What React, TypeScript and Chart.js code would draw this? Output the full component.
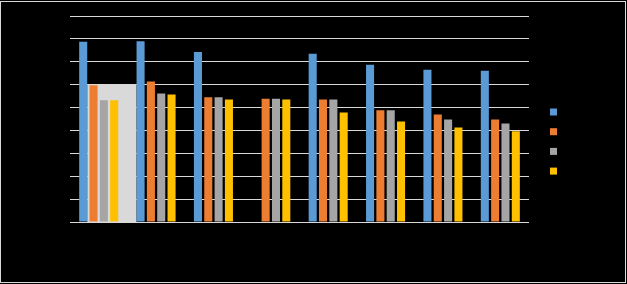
import React, { useEffect, useRef } from "react";
import { Chart, registerables } from "chart.js";

Chart.register(...registerables);

const categories = ["1", "2", "3", "4", "5", "6", "7", "8"];
const seriesNames = ["Series1", "Series2", "Series3", "Series4"];
const seriesColors = ["#5B9BD5", "#ED7D31", "#A5A5A5", "#FFC000"];
const series1 = [78.7, 79.0, 74.3, null, 73.5, 68.7, 66.5, 66.1];
const series2 = [59.7, 61.4, 54.5, 53.9, 53.5, 48.8, 47.0, 44.8];
const series3 = [53.2, 56.1, 54.5, 53.9, 53.5, 48.8, 44.8, 43.0];
const series4 = [53.2, 55.7, 53.5, 53.5, 47.8, 43.9, 41.3, 39.6];
const yMin = 0;
const yMax = 90;
const yStep = 10;
const highlightValue = 60;

const bgPlugin = {
  id: "bg",
  beforeDraw(chart: any) {
    const { ctx, width, height } = chart;
    ctx.save();
    ctx.fillStyle = "#000000";
    ctx.fillRect(0, 0, width, height);
    ctx.restore();
  },
  afterDraw(chart: any) {
    const { ctx } = chart;
    ctx.save();
    ctx.strokeStyle = "#d9d9d9";
    ctx.lineWidth = 1;
    ctx.strokeRect(0.5, 1.5, 625, 281);
    ctx.restore();
  },
};

const highlightPlugin = {
  id: "highlight",
  beforeDatasetsDraw(chart: any) {
    const meta = chart.getDatasetMeta(0);
    const b0: any = meta.data[0];
    const b1: any = meta.data[1];
    if (!b0 || !b1) return;
    const y = chart.scales.y;
    const left = b0.x + b0.width / 2;
    const right = b1.x - b1.width / 2;
    const top = y.getPixelForValue(highlightValue);
    const bottom = y.getPixelForValue(0);
    const { ctx } = chart;
    ctx.save();
    ctx.fillStyle = "#d9d9d9";
    ctx.fillRect(left, top, right - left, bottom - top);
    ctx.restore();
  },
};

const legendPlugin = {
  id: "customLegend",
  afterDraw(chart: any) {
    const { ctx } = chart;
    const x = 550;
    const startY = 112;
    const gap = 19.7;
    ctx.save();
    ctx.font = "12px 'Liberation Sans', sans-serif";
    ctx.textBaseline = "middle";
    chart.data.datasets.forEach((ds: any, i: number) => {
      const cy = startY + i * gap;
      ctx.fillStyle = ds.backgroundColor;
      ctx.fillRect(x, cy - 3.5, 7, 7);
      ctx.fillStyle = "#000000";
      ctx.fillText(ds.label, x + 11, cy);
    });
    ctx.restore();
  },
};

export default function App() {
  const ref = useRef<HTMLCanvasElement | null>(null);

  useEffect(() => {
    document.body.style.margin = "0";
    document.body.style.background = "#000";
    if (!ref.current) return;
    const data = [series1, series2, series3, series4];
    const chart = new Chart(ref.current, {
      type: "bar",
      data: {
        labels: categories,
        datasets: data.map((d, i) => ({
          label: seriesNames[i],
          data: d as any,
          backgroundColor: seriesColors[i],
          borderWidth: 0,
          categoryPercentage: 0.72,
          barPercentage: 0.78,
        })),
      },
      options: {
        responsive: false,
        animation: false,
        layout: { padding: { left: 10, right: 98, top: 16, bottom: 10 } },
        plugins: {
          legend: { display: false },
          tooltip: { enabled: false },
        },
        scales: {
          x: {
            grid: { display: false },
            border: { display: false },
            ticks: { color: "#000000", font: { family: "Liberation Sans", size: 12 } },
            afterFit: (axis: any) => {
              axis.height = 52;
            },
          },
          y: {
            min: yMin,
            max: yMax,
            ticks: {
              stepSize: yStep,
              color: "#000000",
              font: { family: "Liberation Sans", size: 12 },
            },
            grid: { color: "#d9d9d9", lineWidth: 1, drawTicks: false },
            border: { display: false },
            afterFit: (axis: any) => {
              axis.width = 60;
            },
          },
        },
      },
      plugins: [bgPlugin, highlightPlugin, legendPlugin],
    });
    return () => chart.destroy();
  }, []);

  return (
    <div style={{ width: 627, height: 284, background: "#000" }}>
      <canvas ref={ref} width={627} height={284} style={{ display: "block" }} />
    </div>
  );
}
